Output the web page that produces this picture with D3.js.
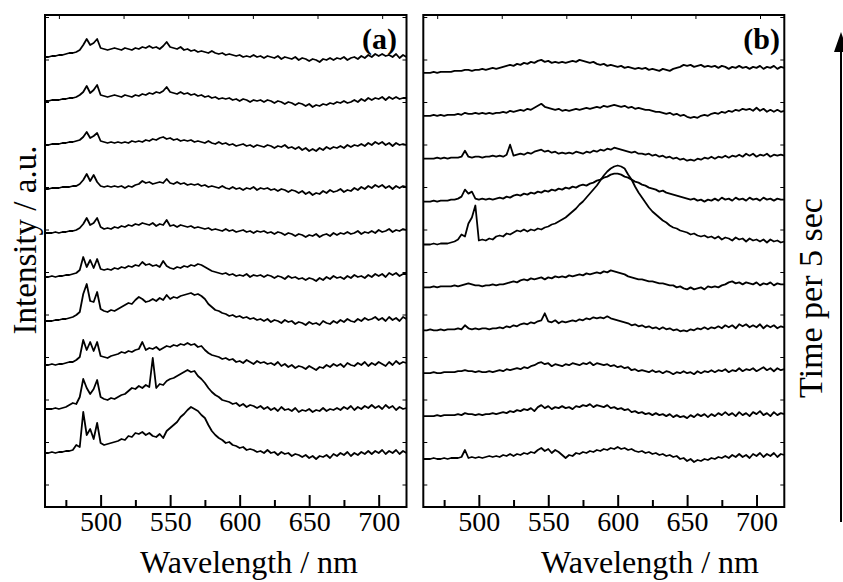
<!DOCTYPE html>
<html>

<head>
    <title>Time-resolved spectra</title>
    <script src="https://d3js.org/d3.v7.min.js"></script>
    <style>
        body { margin: 0; background: #fff; }
        text { font-family: "Liberation Serif", "Times New Roman", serif; fill: #000; }
    </style>
</head>

<body>
    <svg id="chart" width="843" height="582" font-family="Liberation Serif, serif"></svg>

    <script>
        // sampling grid of the spectrometer (nm)
        const wlStart = 460, wlStep = 2.5;

        // panel (a) spectra, first (bottom) to last (top), intensity in a.u.
        const specA1 = [0, 0, 1, 0, 1, 1, 2, 2, 3, 8, 6, 41, 18, 24, 14, 30, 10, 8, 9, 10, 11,
            12, 14, 13, 17, 16, 20, 19, 21, 18, 20, 17, 16, 19, 15, 22, 25, 28, 31, 36, 39, 43,
            46, 44, 42, 38, 35, 28, 22, 18, 15, 13, 10, 11, 8, 7, 5, 6, 3, 4, 3, 1, 2,
            0, 3, 0, 1, -2, 1, -1, 0, -3, -1, -2, -4, -2, -5, -3, -6, -3, -4, -2, -5, -1,
            -3, 0, -2, 1, -3, 0, -2, 1, -1, 2, -1, 2, 0, 3, -1, 2, 0, 3, -1, 2, 0];
        const specA2 = [0, 0, 0, 1, 0, 1, 2, 4, 6, 5, 12, 30, 21, 15, 20, 29, 12, 10, 9, 11, 10,
            12, 14, 15, 18, 21, 20, 23, 21, 24, 22, 51, 21, 25, 24, 28, 30, 31, 33, 35, 37, 39,
            37, 38, 33, 30, 26, 21, 17, 14, 12, 9, 8, 7, 5, 6, 3, 5, 2, 4, 3, 1, 3,
            0, 2, -1, 1, -2, 2, -1, 0, -2, 1, -3, -1, -2, 0, -3, -1, -2, 1, -2, 0, -1,
            1, -1, 2, 0, 3, -1, 2, 0, 3, 1, 4, 1, 3, 0, 4, 1, 3, -1, 2, 0, 1];
        const specA3 = [0, 0, 1, 0, 1, 1, 2, 3, 3, 5, 8, 25, 15, 23, 14, 23, 9, 8, 7, 9, 10,
            11, 13, 12, 14, 13, 15, 16, 23, 15, 17, 16, 18, 15, 17, 19, 18, 20, 19, 21, 20, 22,
            20, 21, 18, 19, 15, 12, 10, 9, 8, 6, 7, 5, 6, 3, 4, 2, 5, 3, 1, 4, 2,
            3, 1, 2, 0, 3, -1, 1, -2, 0, -3, -1, -2, -4, -1, -3, -5, -2, -3, 0, -2, 1,
            -1, 1, -2, 2, 0, -1, 2, 0, 3, -1, 2, 0, 3, 1, -1, 3, 0, 4, 1, 3, 2];
        const specA4 = [0, 0, 0, 1, 1, 2, 2, 3, 4, 6, 9, 27, 37, 20, 19, 29, 12, 10, 9, 11, 10,
            12, 14, 16, 18, 17, 21, 24, 22, 19, 20, 22, 20, 23, 21, 26, 22, 24, 23, 25, 26, 27,
            28, 26, 27, 25, 22, 17, 14, 11, 10, 8, 7, 5, 6, 4, 5, 3, 4, 2, 3, 1, 2,
            0, 2, -1, 1, 0, -2, 1, -1, 0, -3, -1, -2, -4, -1, -3, -2, -4, 0, -2, -3, 0,
            -2, 1, -1, 2, 0, -1, 2, 0, 3, 1, 2, 4, 1, 3, 0, 4, 1, 3, 0, 4, 2];
        const specA5 = [0, 0, 1, 0, 1, 1, 2, 2, 3, 4, 7, 20, 10, 17, 9, 18, 8, 7, 8, 7, 9,
            8, 10, 9, 11, 10, 12, 11, 15, 12, 13, 11, 12, 10, 16, 11, 9, 8, 10, 9, 11, 10,
            12, 11, 13, 12, 10, 8, 6, 5, 4, 3, 4, 2, 3, 1, 2, 1, 3, 0, 2, 1, 2,
            0, 2, 1, -1, 1, 0, -2, 1, -1, 0, -2, -1, -3, -1, -2, -4, -1, -3, 0, -2, 1,
            -1, 0, -2, 1, -1, 2, 0, 1, -1, 2, 0, 3, 1, 3, 0, 4, 2, 4, 1, 3, 3];
        const specA6 = [0, 0, 0, 1, 0, 1, 1, 2, 2, 3, 5, 9, 15, 8, 10, 15, 6, 4, 5, 4, 6,
            5, 7, 6, 8, 7, 9, 8, 10, 9, 8, 10, 7, 9, 8, 13, 7, 8, 6, 8, 7, 6,
            7, 5, 6, 5, 4, 5, 3, 4, 3, 2, 4, 2, 3, 1, 2, 3, 1, 2, 0, 2, 1,
            2, 0, 1, -1, 1, 0, -2, 0, -1, -3, -1, -2, -4, -2, -3, -1, -4, -2, -1, -3, 0,
            -2, 0, -1, 1, -1, 0, 2, -1, 1, 0, 2, 0, 3, 1, 2, 4, 1, 3, 2, 4, 3];
        const specA7 = [0, 0, 1, 1, 1, 2, 2, 2, 3, 3, 5, 9, 15, 8, 14, 7, 3, 2, 3, 2, 3,
            2, 3, 1, 3, 2, 4, 5, 8, 6, 7, 5, 6, 7, 6, 10, 6, 5, 7, 5, 6, 4,
            5, 4, 5, 3, 4, 2, 3, 2, 1, 3, 1, 0, 2, 0, 1, -1, 1, 0, 2, -1, 1,
            0, 1, -1, 0, -2, 0, -1, -3, -1, -2, -4, -2, -5, -3, -6, -4, -5, -2, -4, -1, -3,
            -2, 0, -3, -1, -2, 1, -1, 2, 0, 3, 1, 4, 2, 4, 1, 3, 0, 3, 1, 3, 2];
        const specA8 = [0, 0, 1, 1, 1, 2, 2, 3, 3, 4, 5, 8, 13, 7, 9, 12, 4, 3, 2, 3, 2,
            3, 2, 3, 2, 4, 3, 4, 3, 5, 4, 6, 5, 7, 8, 6, 7, 5, 6, 4, 5, 4,
            5, 3, 4, 3, 2, 4, 2, 1, 3, 1, 2, 0, 1, -1, 0, 1, -1, 0, -2, 0, -1,
            -2, 0, -1, -3, -1, -2, 0, -3, -2, -4, -2, -5, -3, -6, -4, -6, -3, -5, -2, -4, -2,
            -3, -1, -3, 0, -2, 0, -1, 1, -1, 2, 0, 3, 1, 3, 0, 2, -1, 2, 0, 1, 0];
        const specA9 = [0, 0, 1, 1, 1, 2, 2, 3, 3, 4, 6, 9, 15, 8, 11, 16, 6, 5, 4, 5, 6,
            5, 4, 6, 5, 4, 6, 5, 7, 6, 8, 7, 9, 8, 10, 14, 9, 8, 7, 9, 7, 8,
            6, 7, 5, 6, 4, 5, 3, 4, 2, 3, 2, 3, 1, 2, 0, 2, 1, -1, 1, 0, 1,
            -1, 1, 0, -2, 0, -1, -3, -1, -2, -4, -2, -3, -5, -3, -6, -4, -5, -3, -4, -2, -3,
            -1, -2, 0, -2, -1, 1, -1, 2, 0, 3, 1, 3, 2, 4, 1, 4, 2, 4, 2, 3, 3];
        const specA10 = [0, 0, 1, 1, 2, 2, 3, 4, 4, 5, 7, 12, 18, 12, 14, 18, 9, 8, 7, 8, 9,
            8, 7, 9, 8, 7, 9, 8, 10, 9, 11, 9, 10, 8, 11, 15, 10, 9, 8, 10, 7, 8,
            6, 7, 5, 6, 5, 4, 6, 4, 3, 4, 2, 3, 2, 1, 2, 0, 1, 0, 2, 0, 1,
            -1, 1, 0, -1, 1, -2, 0, -1, -2, 0, -3, -1, -2, -4, -2, -3, -5, -2, -3, -1, -3,
            -1, -2, 0, -3, -1, 0, -2, 1, -1, 2, 0, 3, 1, 3, 1, 2, 0, 3, -1, 2, 0];

        // panel (b) spectra, first (bottom) to last (top)
        const specB1 = [0, 0, 0, 1, 0, 0, 1, 0, 1, 1, 1, 2, 9, 1, 2, 1, 2, 1, 2, 3, 2,
            3, 2, 4, 3, 5, 3, 5, 4, 6, 5, 7, 6, 9, 11, 8, 10, 6, 9, 7, 4, 1,
            4, 3, 6, 5, 7, 6, 8, 7, 9, 8, 10, 9, 11, 10, 12, 10, 11, 9, 10, 8, 7,
            8, 6, 7, 5, 6, 4, 5, 3, 4, 2, 3, 0, 1, -2, 0, -3, -1, -2, 0, -1, 1,
            0, 2, 1, 3, 1, 4, 2, 5, 2, 4, 1, 5, 3, 6, 2, 5, 3, 6, 2, 5, 4];
        const specB2 = [0, 0, 0, 0, 1, 0, 1, 1, 1, 1, 2, 1, 3, 2, 2, 1, 2, 1, 2, 2, 3,
            2, 3, 4, 3, 5, 4, 6, 5, 7, 6, 8, 5, 9, 11, 8, 10, 7, 9, 8, 10, 8,
            9, 7, 10, 9, 11, 10, 12, 9, 11, 10, 9, 11, 8, 9, 7, 8, 6, 7, 4, 5, 3,
            4, 2, 3, 1, 3, 1, 2, 0, 2, -1, 1, -1, 0, -2, 1, -1, 2, 0, 2, -1, 2,
            0, 3, 1, 4, 1, 3, 0, 4, 1, 3, 0, 4, 2, 5, 1, 3, 0, 4, 1, 3, 2];
        const specB3 = [0, 0, 0, 1, 0, 0, 1, 1, 1, 1, 2, 2, 3, 2, 2, 1, 2, 1, 1, 2, 1,
            2, 3, 2, 4, 3, 4, 5, 4, 6, 5, 7, 8, 10, 11, 9, 10, 7, 9, 8, 7, 9,
            8, 10, 9, 8, 10, 9, 11, 8, 10, 9, 8, 9, 7, 8, 6, 7, 5, 6, 3, 4, 2,
            3, 2, 1, 3, 1, 2, 0, 2, 1, -1, 1, 0, 2, 0, 1, -1, 2, 0, 2, 1, 3,
            1, 3, 2, 4, 1, 3, 2, 5, 2, 4, 3, 5, 2, 4, 6, 3, 5, 2, 5, 3, 4];
        const specB4 = [0, 0, 1, 0, 0, 1, 0, 1, 1, 1, 2, 1, 5, 2, 1, 2, 1, 2, 2, 1, 2,
            2, 3, 2, 4, 3, 5, 4, 6, 7, 6, 8, 7, 9, 10, 17, 9, 8, 10, 7, 9, 8,
            9, 10, 9, 11, 10, 12, 11, 13, 12, 13, 12, 14, 12, 11, 10, 9, 8, 7, 5, 6, 4,
            5, 3, 4, 2, 3, 1, 3, 1, 2, 0, 1, -1, 0, -1, 1, 0, 2, 1, 3, 1, 3,
            2, 4, 2, 5, 3, 5, 2, 6, 4, 6, 3, 5, 3, 6, 2, 5, 3, 5, 2, 4, 3];
        const specB5 = [0, 0, 0, 1, 0, 1, 1, 1, 1, 2, 1, 2, 3, 4, 3, 2, 2, 1, 2, 2, 3,
            2, 3, 3, 4, 5, 6, 5, 7, 8, 7, 9, 8, 9, 10, 8, 10, 9, 11, 10, 11, 10,
            12, 11, 12, 13, 12, 14, 13, 14, 15, 14, 16, 15, 17, 16, 15, 14, 13, 11, 10, 9, 8,
            8, 7, 6, 6, 5, 4, 4, 3, 2, 2, 0, 1, -1, -2, 0, -2, -1, 0, -2, 1, 0,
            1, 0, 2, 3, 5, 6, 4, 5, 3, 5, 4, 3, 5, 2, 4, 3, 5, 2, 4, 3, 3];
        const specB6 = [0, 0, 0, 1, 0, 1, 1, 1, 2, 3, 5, 10, 8, 21, 27, 39, 4, 5, 4, 6, 5,
            8, 9, 8, 11, 10, 12, 14, 13, 15, 13, 15, 14, 16, 15, 17, 18, 20, 21, 23, 25, 27,
            30, 33, 36, 40, 43, 47, 51, 55, 59, 64, 69, 73, 76, 78, 79, 78, 76, 70, 65, 58, 52,
            47, 42, 37, 33, 30, 27, 24, 22, 19, 17, 16, 14, 13, 12, 10, 11, 9, 8, 9, 7, 8,
            6, 8, 5, 7, 6, 4, 7, 5, 6, 3, 6, 4, 5, 3, 5, 2, 5, 3, 4, 2, 3];
        const specB7 = [0, 0, 0, 1, 0, 1, 1, 1, 2, 2, 3, 5, 12, 8, 10, 3, 2, 3, 2, 3, 2,
            3, 4, 3, 5, 4, 6, 7, 6, 8, 7, 9, 8, 10, 9, 11, 10, 12, 11, 13, 12, 14,
            13, 15, 14, 16, 17, 16, 18, 19, 21, 22, 24, 25, 27, 28, 28, 27, 25, 24, 22, 20, 19,
            17, 16, 14, 13, 12, 10, 11, 9, 8, 7, 6, 5, 4, 3, 2, 3, 1, 2, 0, 2, 1,
            3, 1, 4, 2, 3, 1, 4, 2, 3, 1, 4, 2, 3, 1, 4, 2, 3, 1, 3, 2, 2];
        const specB8 = [0, 0, 0, 0, 1, 0, 1, 0, 1, 1, 1, 2, 8, 2, 1, 2, 2, 1, 2, 2, 3,
            2, 3, 2, 4, 14, 3, 4, 5, 4, 6, 5, 7, 8, 9, 7, 8, 6, 7, 5, 6, 5,
            6, 5, 7, 6, 5, 7, 6, 8, 7, 9, 8, 10, 9, 11, 10, 9, 8, 7, 6, 7, 5,
            5, 4, 5, 3, 4, 2, 3, 1, 2, 0, 1, -1, 0, -2, -1, -2, 0, -1, 1, 0, 2,
            0, 2, 1, 3, 1, 3, 2, 4, 2, 5, 3, 5, 2, 4, 3, 5, 2, 4, 3, 4, 3];
        const specB9 = [0, 0, 0, 1, 0, 1, 0, 1, 1, 1, 2, 1, 3, 2, 2, 3, 2, 3, 2, 3, 2,
            3, 3, 4, 3, 5, 4, 5, 6, 5, 7, 6, 8, 10, 12, 9, 8, 7, 6, 7, 5, 6,
            5, 6, 7, 6, 7, 8, 7, 8, 9, 8, 10, 9, 10, 11, 10, 9, 10, 8, 9, 7, 8,
            7, 6, 6, 5, 4, 4, 3, 2, 3, 1, 2, 0, 1, -1, -2, -1, -2, 0, 1, 0, 2,
            3, 2, 4, 3, 5, 4, 6, 5, 7, 6, 7, 5, 8, 5, 7, 4, 6, 4, 6, 4, 5];
        const specB10 = [0, 0, 0, 1, 0, 1, 1, 1, 1, 2, 2, 2, 3, 3, 2, 3, 3, 4, 3, 4, 5,
            4, 5, 6, 7, 8, 7, 9, 8, 10, 9, 11, 10, 12, 13, 11, 12, 10, 11, 10, 11, 10,
            11, 12, 11, 13, 12, 11, 10, 11, 9, 8, 9, 7, 8, 7, 6, 7, 5, 6, 5, 4, 5,
            4, 5, 3, 4, 3, 2, 4, 3, 2, 4, 5, 6, 8, 7, 8, 6, 7, 8, 6, 7, 6,
            7, 5, 7, 6, 4, 6, 5, 7, 5, 6, 4, 6, 5, 7, 4, 6, 5, 7, 4, 6, 5];

        const spectraA = [specA1, specA2, specA3, specA4, specA5, specA6, specA7, specA8, specA9, specA10];
        const spectraB = [specB1, specB2, specB3, specB4, specB5, specB6, specB7, specB8, specB9, specB10];

        // axis ticks
        const majorTicks = [500, 550, 600, 650, 700];
        const minorTicks = [475, 525, 575, 625, 675];
        const topTicks = [470, 516.5, 563, 609.5, 656, 702.5];

        const svg = d3.select("#chart");
        const plotTop = 15, plotBottom = 507;
        const serif = "'Liberation Serif', 'Times New Roman', serif";

        const y = d3.scaleLinear().domain([0, 492]).range([plotBottom, plotTop]);
        const sideTicks = d3.range(22.5, 492, 42.5);

        function drawPanel(spectra, opt) {
            const x = d3.scaleLinear().domain([460, 720]).range([opt.left, opt.right]);
            const g = svg.append("g");

            const line = d3.line()
                .x((d, j) => x(wlStart + j * wlStep))
                .y(d => d);

            // the spectra, stacked with a constant offset
            spectra.forEach((s, i) => {
                const off = opt.base + opt.step * i;
                g.append("path")
                    .attr("d", line(s.map(v => y(off + v))))
                    .attr("fill", "none")
                    .attr("stroke", "#000")
                    .attr("stroke-width", 1.8)
                    .attr("stroke-linejoin", "round");
            });

            // bottom axis, inward ticks
            const ax = g.append("g")
                .attr("transform", "translate(0," + plotBottom + ")")
                .call(d3.axisBottom(x).tickValues(majorTicks).tickSize(-12).tickPadding(4).tickFormat(d3.format("d")));
            ax.attr("font-family", serif);
            ax.selectAll("text").style("font-size", "28px").style("font-family", serif);
            ax.select(".domain").remove();
            ax.selectAll("line").attr("stroke-width", 2);

            g.append("g")
                .attr("transform", "translate(0," + plotBottom + ")")
                .call(d3.axisBottom(x).tickValues(minorTicks).tickSize(-7).tickFormat(""))
                .call(a => a.select(".domain").remove())
                .selectAll("line").attr("stroke-width", 2);

            g.append("g")
                .attr("transform", "translate(0," + plotTop + ")")
                .call(d3.axisTop(x).tickValues(topTicks).tickSize(-4).tickFormat(""))
                .call(a => a.select(".domain").remove());

            g.append("g")
                .attr("transform", "translate(" + opt.left + ",0)")
                .call(d3.axisLeft(y).tickValues(sideTicks).tickSize(-4).tickFormat(""))
                .call(a => a.select(".domain").remove());

            g.append("g")
                .attr("transform", "translate(" + opt.right + ",0)")
                .call(d3.axisRight(y).tickValues(sideTicks).tickSize(-4).tickFormat(""))
                .call(a => a.select(".domain").remove());

            // frame
            g.append("rect")
                .attr("x", opt.left).attr("y", plotTop)
                .attr("width", opt.right - opt.left).attr("height", plotBottom - plotTop)
                .attr("fill", "none").attr("stroke", "#000").attr("stroke-width", 2);

            g.append("text")
                .attr("x", opt.tagX).attr("y", 49)
                .attr("text-anchor", "end")
                .style("font-size", "30px").style("font-weight", "bold")
                .text(opt.tag);

            g.append("text")
                .attr("x", opt.titleX).attr("y", 573)
                .attr("text-anchor", "middle")
                .style("font-size", "32px")
                .text("Wavelength / nm");
        }

        drawPanel(spectraA, { left: 45, right: 406.5, base: 54, step: 44, tag: "(a)", tagX: 397, titleX: 249 });
        drawPanel(spectraB, { left: 423.3, right: 784.3, base: 48, step: 42.9, tag: "(b)", tagX: 780, titleX: 650 });

        svg.append("text")
            .attr("transform", "translate(36,240) rotate(-90)")
            .attr("text-anchor", "middle")
            .style("font-size", "33px")
            .text("Intensity / a.u.");

        svg.append("text")
            .attr("transform", "translate(822,298) rotate(-90)")
            .attr("text-anchor", "middle")
            .style("font-size", "34px")
            .text("Time per 5 sec");

        // time arrow
        svg.append("line")
            .attr("x1", 841).attr("x2", 841)
            .attr("y1", 522).attr("y2", 48)
            .attr("stroke", "#000").attr("stroke-width", 2);
        svg.append("path")
            .attr("d", "M841,32 L834,52 L848,52 Z")
            .attr("fill", "#000");
    </script>
</body>

</html>
